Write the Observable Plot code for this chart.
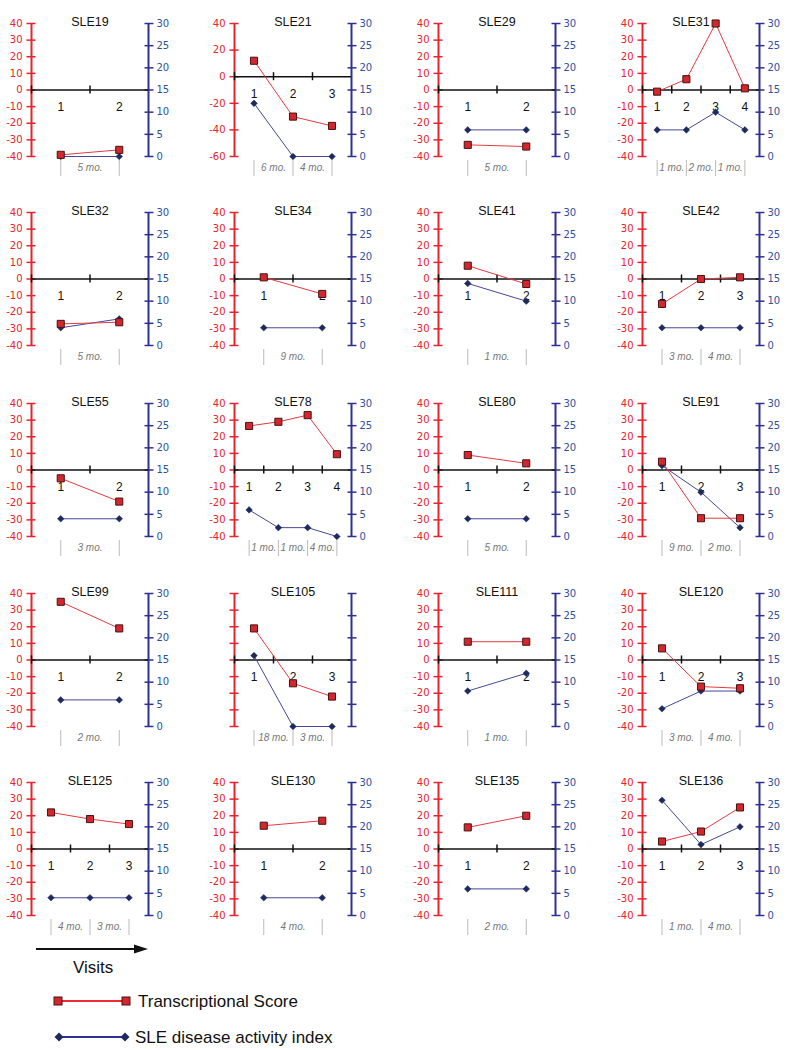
<!DOCTYPE html>
<html><head><meta charset="utf-8">
<script src="https://cdn.jsdelivr.net/npm/d3@7"></script>
<script src="https://cdn.jsdelivr.net/npm/@observablehq/plot@0.6"></script>
<style>
body{margin:0;background:#fff;overflow:hidden;font-family:"Liberation Sans",Arial,sans-serif}
#chart{position:relative;width:796px;height:1050px}
.panel{position:absolute}
.panel svg{overflow:visible;background:transparent}
#legend{position:absolute;left:0;top:930px}
</style></head><body><div id="chart"></div>
<script>
// ---- data ----
const patients = ["SLE19","SLE21","SLE29","SLE31","SLE32","SLE34","SLE41","SLE42","SLE55","SLE78","SLE80","SLE91","SLE99","SLE105","SLE111","SLE120","SLE125","SLE130","SLE135","SLE136"];
const transcriptionalScore = [
  [-39,-36],[12,-30,-37],[-33,-34],[-1,6.5,40,1],
  [-27,-26],[1,-9],[8,-3],[-15,0,1],
  [-5,-19],[26.5,29,33,9.5],[9,4],[5,-29,-29],
  [35,19],[19,-14,-22],[11,11],[7,-16,-17],
  [22,18,15],[14,17],[13,20],[4.5,10.5,25]
];
const sledai = [
  [0,0],[12,0,0],[6,6],[6,6,10,6],
  [4,6],[4,4],[14,10],[4,4,4],
  [4,4],[6,2,2,0],[4,4],[16,10,2],
  [6,6],[16,0,0],[8,12],[4,8,8],
  [4,4,4],[4,4],[6,6],[26,16,20]
];
const intervals = [
  ["5 mo."],["6 mo.","4 mo."],["5 mo."],["1 mo.","2 mo.","1 mo."],
  ["5 mo."],["9 mo."],["1 mo."],["3 mo.","4 mo."],
  ["3 mo."],["1 mo.","1 mo.","4 mo."],["5 mo."],["9 mo.","2 mo."],
  ["2 mo."],["18 mo.","3 mo."],["1 mo."],["3 mo.","4 mo."],
  ["4 mo.","3 mo."],["4 mo."],["2 mo."],["1 mo.","4 mo."]
];
const scoreTicks = [-40,-30,-20,-10,0,10,20,30,40];
const scoreTicksWide = [-60,-40,-20,0,20,40];
const sledaiTicks = [0,5,10,15,20,25,30];
const widePanels = ["SLE21"];
const unlabeledPanels = ["SLE105"];
const legendLabels = ["Transcriptional Score","SLE disease activity index"];
const arrowLabel = "Visits";

// ---- style ----
const RED = "#e8232b", NAVY = "#2e3192", NAVY_TEXT = "#2f50a0";
const RED_LINE = "#e53a40", BLUE_LINE = "#45479a";
const SQ_FILL = "#d0282e", SQ_STROKE = "#4a1010", DIA_FILL = "#1e2a5e";
const FONT = "'Liberation Sans', Arial, sans-serif";
const TICK_FONT = "'DejaVu Sans', sans-serif";
const colLeft = [0,203,407,611], rowTop = [0,189,380,570,759];
const titleDx = {SLE31: -10};
const PLOT_H = 133;

function panel(k) {
  const name = patients[k], ts = transcriptionalScore[k], sd = sledai[k], iv = intervals[k];
  const n = ts.length;
  const wide = widePanels.includes(name);
  const ticksL = wide ? scoreTicksWide : scoreTicks;
  const lo = ticksL[0], hi = ticksL[ticksL.length - 1];
  const toScore = v => lo + v / 30 * (hi - lo);
  const fromScore = y => Math.round((y - lo) / (hi - lo) * 30);
  const u = (hi - lo) / PLOT_H; // data units per pixel
  const labelled = !unlabeledPanels.includes(name);
  const rows = ts.map((s, i) => ({visit: i + 1, score: s, sd: toScore(sd[i])}));
  const mids = d3.range(n).map(i => i + 0.5);
  const ivRows = iv.map((t, i) => ({x: i + 1.5, t}));
  const seps = d3.range(1, n + 1);
  return Plot.plot({
    width: 185, height: 190,
    marginLeft: 31, marginRight: 37, marginTop: 23, marginBottom: 34,
    x: {domain: [0.5, n + 0.5], axis: null},
    y: {domain: [lo, hi], axis: null},
    style: {fontFamily: FONT, overflow: "visible", background: "transparent"},
    marks: [
      Plot.ruleX([0.5], {y1: lo, y2: hi, stroke: RED, strokeWidth: 2}),
      Plot.ruleX([n + 0.5], {y1: lo, y2: hi, stroke: NAVY, strokeWidth: 2}),
      Plot.axisY({anchor: "left", ticks: ticksL, tickSize: 9, dx: 4.5, tickFormat: () => "", color: RED, strokeWidth: 1.5}),
      Plot.axisY({anchor: "left", ticks: ticksL, tickSize: 0, tickPadding: 9, tickFormat: d => labelled ? String(d) : "", color: RED, fontSize: 10, fontFamily: TICK_FONT}),
      Plot.axisY({anchor: "right", ticks: sledaiTicks.map(toScore), tickSize: 9, dx: -4.5, tickFormat: () => "", color: NAVY, strokeWidth: 1.5}),
      Plot.axisY({anchor: "right", ticks: sledaiTicks.map(toScore), tickSize: 0, tickPadding: 8, tickFormat: d => labelled ? String(fromScore(d)) : "", color: NAVY_TEXT, fontSize: 10, fontFamily: TICK_FONT}),
      Plot.ruleY([0], {x1: 0.5, x2: n + 0.5, stroke: "#111", strokeWidth: 1.5}),
      Plot.ruleX(mids, {y1: -4 * u, y2: 4 * u, stroke: "#111", strokeWidth: 1.5}),
      Plot.ruleX(seps, {y1: lo - 4 * u, y2: lo - 20 * u, stroke: "#bbb", strokeWidth: 1}),
      Plot.text(ivRows, {x: "x", y: () => lo, dy: 11, text: "t", fontSize: 10, fontStyle: "italic", fill: "#777"}),
      Plot.text(rows, {x: "visit", y: () => 0, dy: 17, text: d => String(d.visit), fontSize: 12, fill: "#111"}),
      Plot.line(rows, {x: "visit", y: "sd", stroke: BLUE_LINE, strokeWidth: 1}),
      Plot.line(rows, {x: "visit", y: "score", stroke: RED_LINE, strokeWidth: 1}),
      Plot.dot(rows, {x: "visit", y: "sd", symbol: "diamond2", r: 3, fill: DIA_FILL, stroke: DIA_FILL, strokeWidth: 0.5}),
      Plot.dot(rows, {x: "visit", y: "score", symbol: "square", r: 4, fill: SQ_FILL, stroke: SQ_STROKE, strokeWidth: 1}),
      Plot.text([name], {frameAnchor: "top", dy: -1.5, dx: titleDx[name] || 0, lineAnchor: "middle", fontSize: 12.5, fill: "#111"})
    ]
  });
}

const chart = document.getElementById("chart");
patients.forEach((p, k) => {
  const div = document.createElement("div");
  div.className = "panel";
  div.style.left = colLeft[k % 4] + "px";
  div.style.top = rowTop[Math.floor(k / 4)] + "px";
  div.appendChild(panel(k));
  chart.appendChild(div);
});

// ---- legend ----
const svg = d3.select(chart).append("svg").attr("id", "legend").attr("width", 796).attr("height", 120)
  .style("font-family", FONT);
svg.append("line").attr("x1", 36).attr("x2", 138).attr("y1", 19).attr("y2", 19).attr("stroke", "#111").attr("stroke-width", 2);
svg.append("path").attr("d", "M148,19 L134,14.5 L134,23.5 Z").attr("fill", "#111");
svg.append("text").attr("x", 73).attr("y", 43).attr("font-size", 17).attr("fill", "#111").text(arrowLabel);
const ly = [71, 107];
svg.append("line").attr("x1", 58).attr("x2", 126).attr("y1", ly[0]).attr("y2", ly[0]).attr("stroke", "#ef2a30").attr("stroke-width", 2);
[58, 126].forEach(x => svg.append("rect").attr("x", x - 4).attr("y", ly[0] - 4).attr("width", 8).attr("height", 8).attr("fill", SQ_FILL).attr("stroke", SQ_STROKE).attr("stroke-width", 1));
svg.append("text").attr("x", 138).attr("y", ly[0] + 6).attr("font-size", 17).attr("fill", "#111").text(legendLabels[0]);
svg.append("line").attr("x1", 59).attr("x2", 125).attr("y1", ly[1]).attr("y2", ly[1]).attr("stroke", "#2e3192").attr("stroke-width", 2);
[59, 125].forEach(x => svg.append("path").attr("d", `M${x},${ly[1]-4.5} L${x+4.5},${ly[1]} L${x},${ly[1]+4.5} L${x-4.5},${ly[1]} Z`).attr("fill", DIA_FILL));
svg.append("text").attr("x", 135).attr("y", ly[1] + 6).attr("font-size", 17).attr("fill", "#111").text(legendLabels[1]);
</script></body></html>
